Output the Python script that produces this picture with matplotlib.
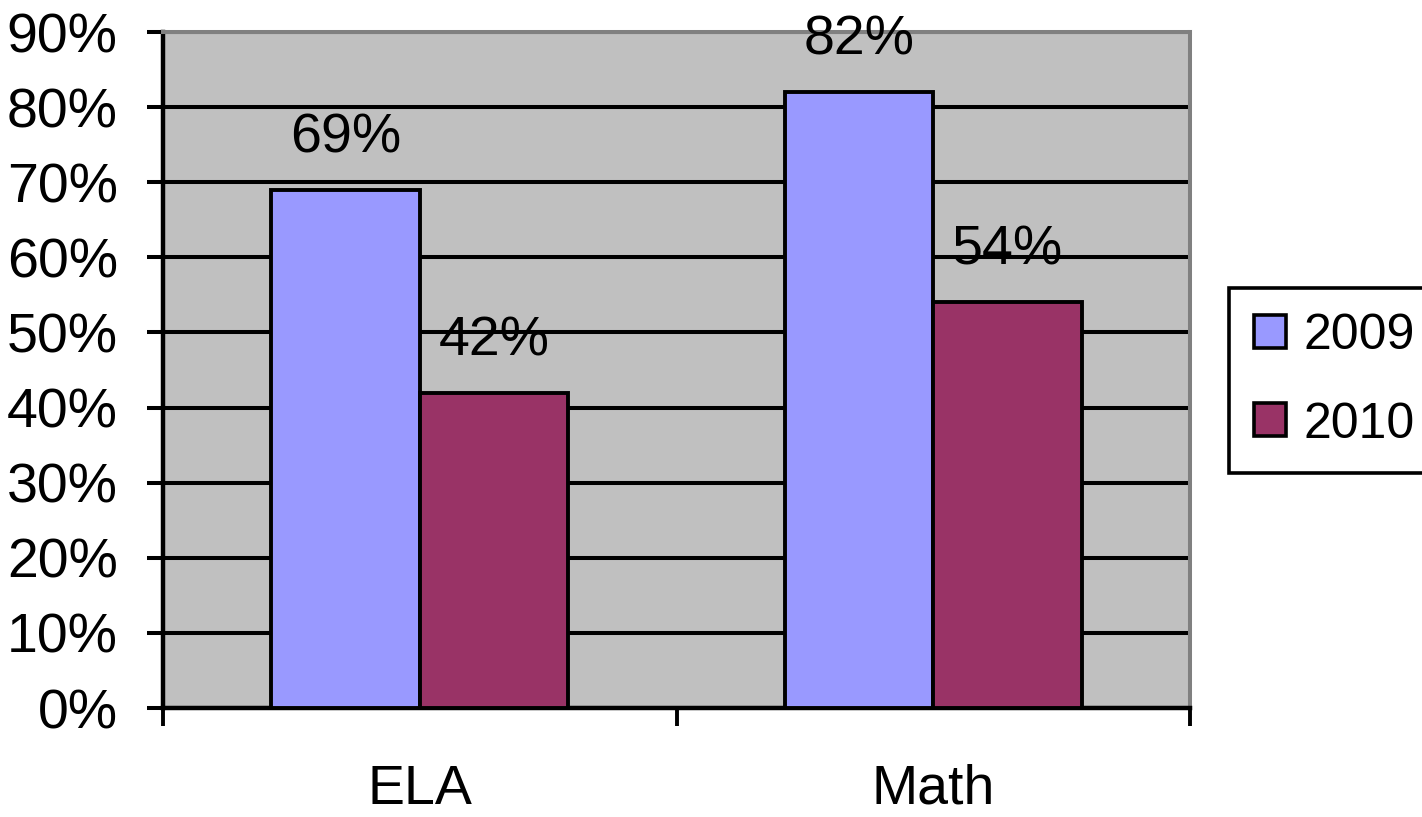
import matplotlib
matplotlib.use("Agg")
from matplotlib import pyplot as plt
from matplotlib.patches import Patch
import numpy as np

plt.rcParams['font.family'] = ['Liberation Sans', 'DejaVu Sans']

subjects = ['ELA', 'Math']
years = ['2009', '2010']
pct_2009 = [69, 82]
pct_2010 = [42, 54]
colors = ['#9999FF', '#993366']

fig = plt.figure(figsize=(14.22, 8.17), dpi=100)
ax = fig.add_axes([0.1146, 0.1334, 0.7223, 0.8274])
ax.set_facecolor('#C0C0C0')

width = 0.289
centers = np.arange(len(subjects)) + 0.5
for i, (vals, color) in enumerate(zip([pct_2009, pct_2010], colors)):
    xs = centers + (i - 1) * width
    bars = ax.bar(xs, vals, width=width, align='edge', color=color,
                  edgecolor='black', linewidth=2.8, zorder=3)
    for b, v in zip(bars, vals):
        ax.annotate(str(v) + '%', (b.get_x() + b.get_width() / 2, v),
                    xytext=(0, 27), textcoords='offset points',
                    ha='center', va='baseline', fontsize=40, zorder=4,
                    annotation_clip=False)

ax.set_xlim(0, 2)
ax.set_ylim(0, 90)
ax.set_yticks(range(0, 91, 10))
ax.set_yticklabels([str(t) + '%' for t in range(0, 91, 10)])
ax.yaxis.grid(True, color='black', linewidth=2.9)
ax.set_axisbelow(True)

ax.set_xticks(centers)
ax.set_xticklabels(subjects)
ax.set_xticks([0, 1, 2], minor=True)
ax.tick_params(axis='x', which='major', length=0, pad=40, labelsize=40)
ax.tick_params(axis='x', which='minor', length=13, width=2.8, color='black')
ax.tick_params(axis='y', length=11.5, width=2.9, pad=21, labelsize=40)

for side in ['left', 'bottom']:
    ax.spines[side].set_color('black')
    ax.spines[side].set_linewidth(3.2)
for side in ['top', 'right']:
    ax.spines[side].set_color('#808080')
    ax.spines[side].set_linewidth(2.9)

handles = [Patch(facecolor=c, edgecolor='black', linewidth=2.6) for c in colors]
leg = fig.legend(handles, years, loc='upper left',
                 bbox_to_anchor=(1229 / 1422, 1 - 288 / 817),
                 fontsize=36, frameon=True, fancybox=False, framealpha=1,
                 handlelength=0.64, handleheight=0.64, handletextpad=0.34,
                 borderpad=0.5, labelspacing=0.85, borderaxespad=0)
leg.get_frame().set_edgecolor('black')
leg.get_frame().set_linewidth(2.6)

fig.savefig('out.png', dpi=100)
